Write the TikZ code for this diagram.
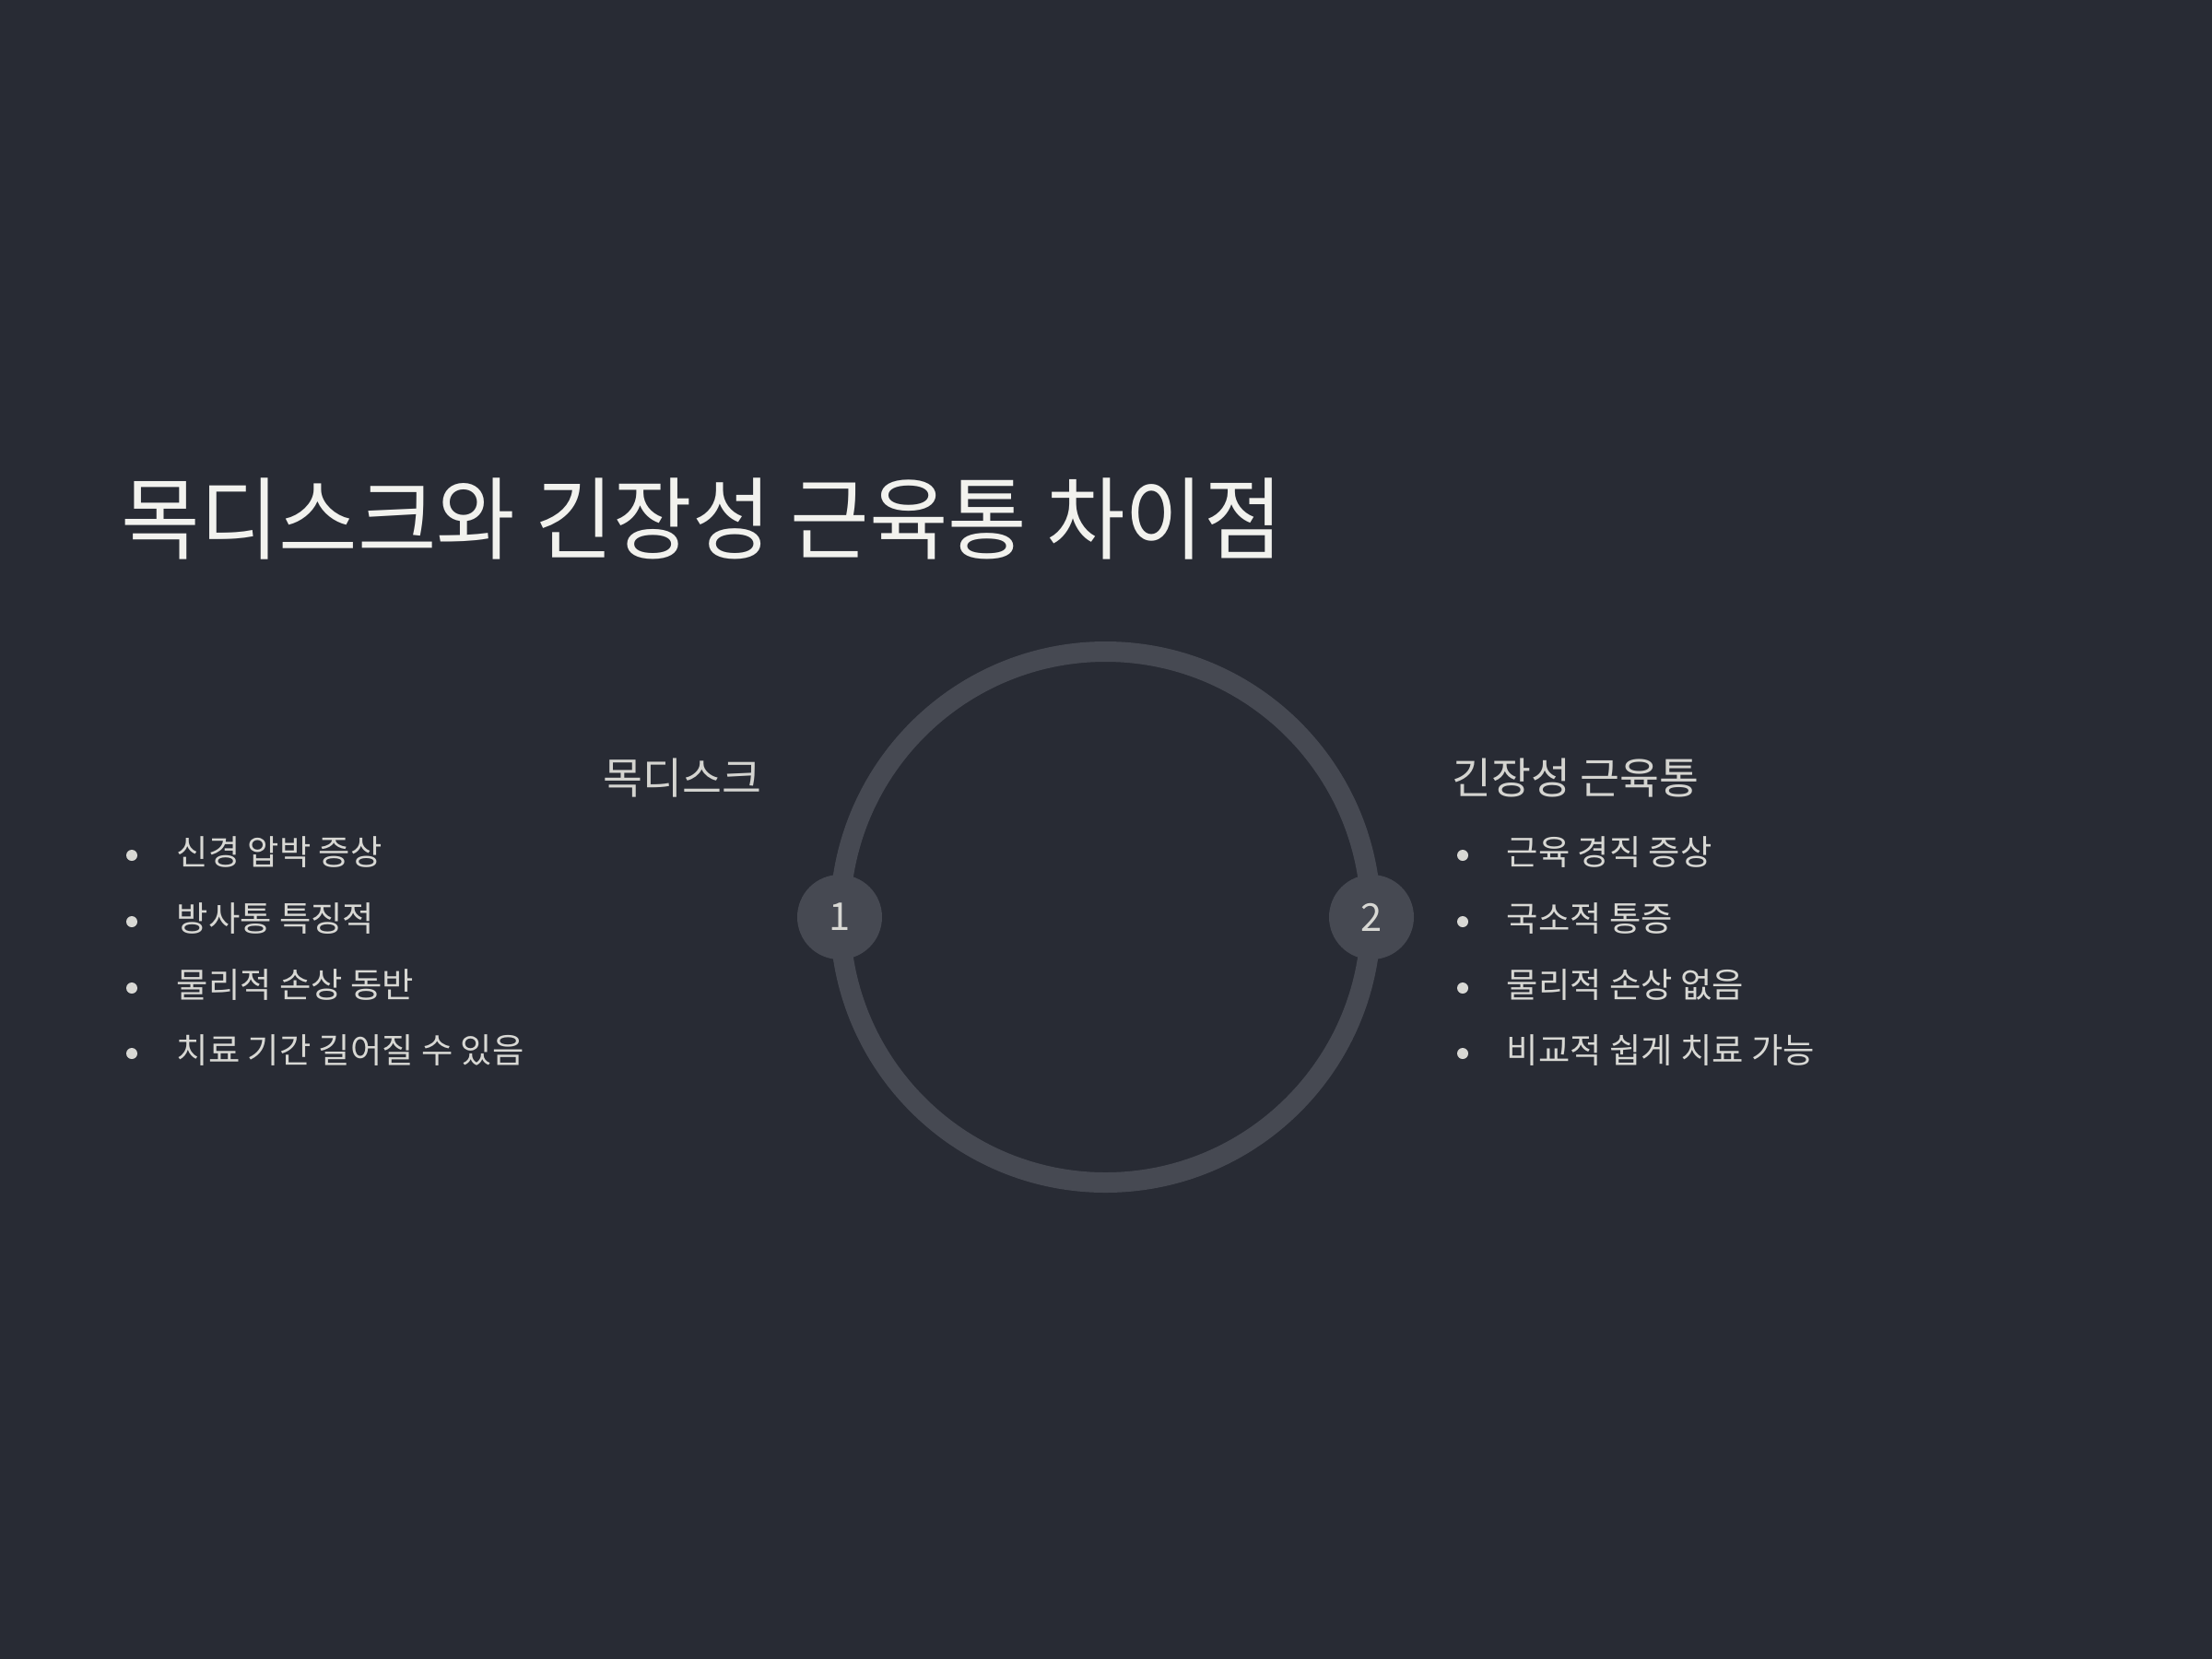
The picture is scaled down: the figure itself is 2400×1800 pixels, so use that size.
\documentclass[tikz,border=0pt]{standalone}
\usepackage{fontspec}
\setmainfont{Noto Sans CJK KR}
\definecolor{bgc}{HTML}{282B34}
\definecolor{ringc}{HTML}{464952}
\definecolor{titlec}{HTML}{F2F2EE}
\definecolor{headc}{HTML}{D4D4D0}
\definecolor{itemc}{HTML}{D8D8D4}
\begin{document}
\begin{tikzpicture}[x=0.3pt,y=-0.3pt,
  titletext/.style={anchor=west,inner sep=0pt,text=titlec,font=\fontsize{27.9pt}{32pt}\selectfont},
  headtext/.style={anchor=west,inner sep=0pt,text=headc,font=\fontsize{14pt}{16pt}\selectfont},
  itemtext/.style={anchor=west,inner sep=0pt,text=itemc,font=\fontsize{11.2pt}{13pt}\selectfont},
  bulletdot/.style={circle,fill=itemc,inner sep=0pt,minimum size=3.6pt},
  numdisc/.style={circle,fill=ringc,inner sep=0pt,minimum size=27.6pt,text=itemc,font=\fontsize{12.5pt}{14pt}\selectfont}]
\fill[bgc] (0,0) rectangle (2400,1800);
\useasboundingbox (0,0) rectangle (2400,1800);
% title
\node[titletext] (title) at (131,563) {\scalebox{1}[1.05]{목디스크와 긴장성 근육통 차이점}};
% ring
\coordinate (ctr) at (1199.5,995);
\draw[ringc,line width=6.6pt] (ctr) circle[radius=288];
\node[numdisc] (n1) at (911,995) {1};
\node[numdisc] (n2) at (1488,995) {2};
% left group
\node[headtext] (h1) at (654,844) {목디스크};
\node[bulletdot] (b1) at (143,928) {};
\node[bulletdot] (b2) at (143,1000) {};
\node[bulletdot] (b3) at (143,1072) {};
\node[bulletdot] (b4) at (143,1143) {};
\node[itemtext] (l1) at (191,925) {신경 압박 증상};
\node[itemtext] (l2) at (191,997) {방사통 특징적};
\node[itemtext] (l3) at (191,1069) {물리적 손상 동반};
\node[itemtext] (l4) at (191,1140) {치료 기간 길어질 수 있음};
% right group
\node[headtext] (h2) at (1575,844) {긴장성 근육통};
\node[bulletdot] (c1) at (1587,928) {};
\node[bulletdot] (c2) at (1587,1000) {};
\node[bulletdot] (c3) at (1587,1072) {};
\node[bulletdot] (c4) at (1587,1143) {};
\node[itemtext] (r1) at (1634,925) {근육 경직 증상};
\node[itemtext] (r2) at (1634,997) {국소적 통증};
\node[itemtext] (r3) at (1634,1069) {물리적 손상 없음};
\node[itemtext] (r4) at (1634,1140) {비교적 쉽게 치료 가능};
\end{tikzpicture}
\end{document}
